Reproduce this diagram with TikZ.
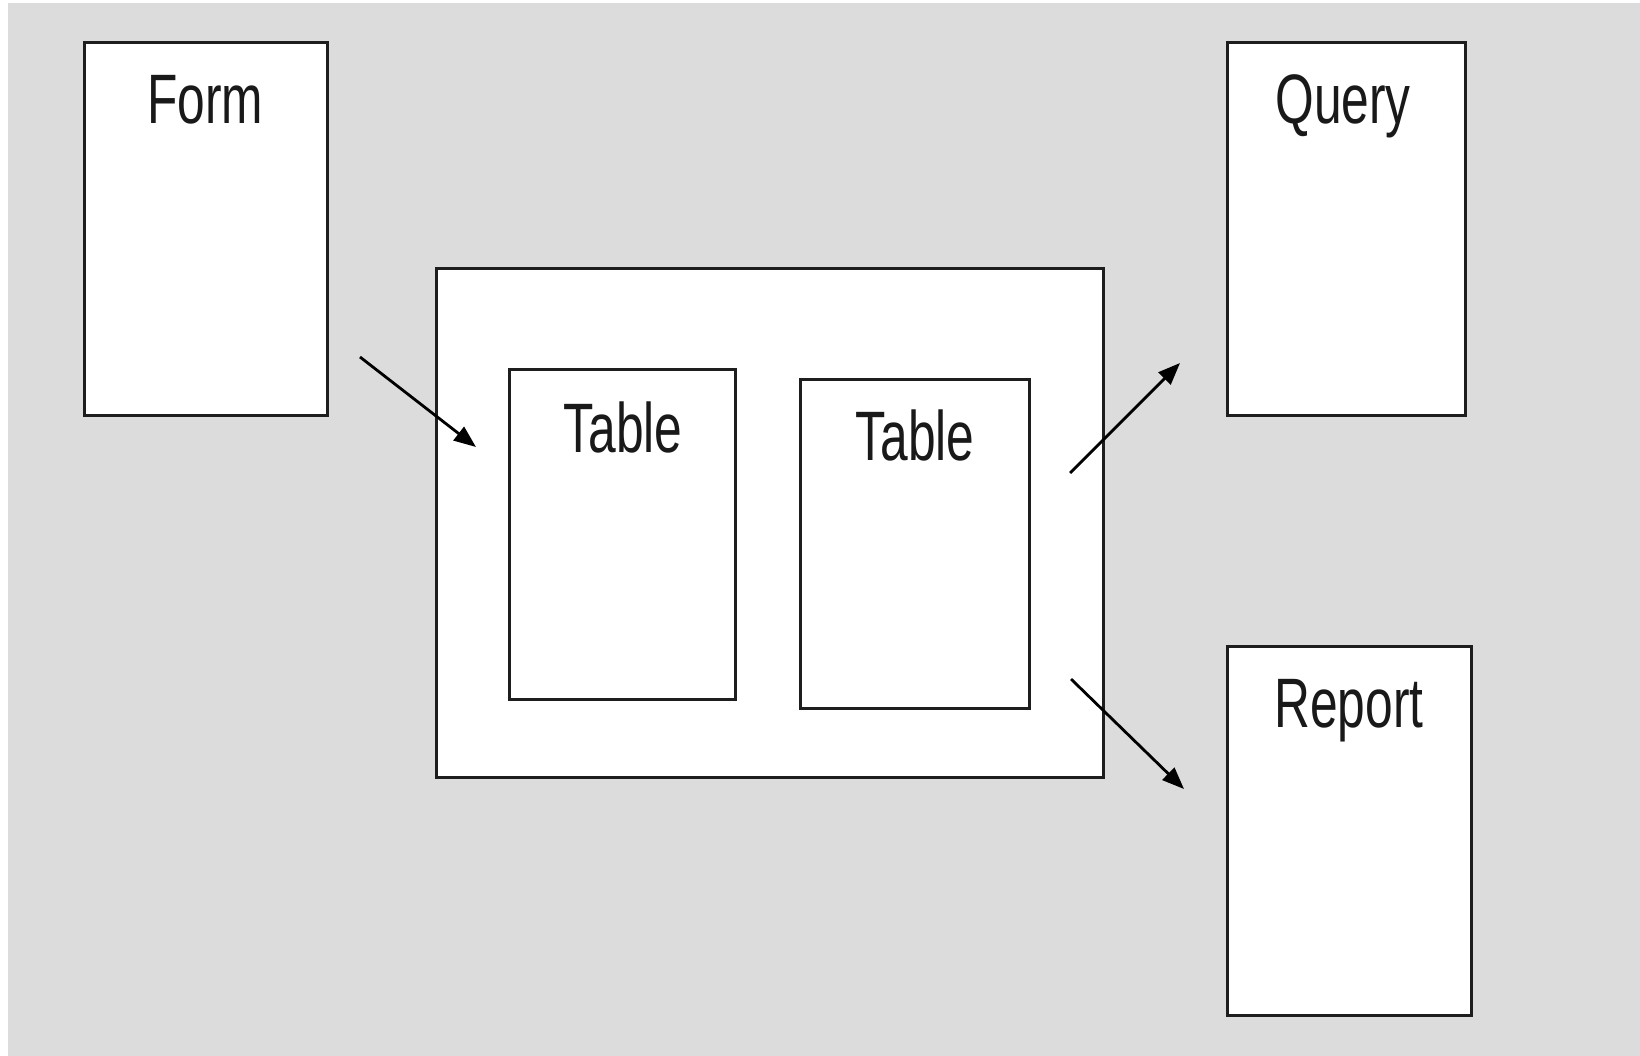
\documentclass[tikz,border=0pt]{standalone}
\usepackage{fontspec}
\newfontfamily\labfont[FakeStretch=0.71]{Liberation Sans}
\usetikzlibrary{arrows.meta}
\definecolor{bggray}{HTML}{DCDCDC}
\definecolor{edge}{HTML}{1E1E1E}
\tikzset{
  box/.style={draw=edge, line width=3pt, fill=white, inner sep=0pt},
  lbl/.style={anchor=base, inner sep=0pt, font=\labfont\fontsize{70}{84}\selectfont, text=black!90},
  arr/.style={draw=black, line width=2.8pt, -{Triangle[length=22pt,width=17pt]}}
}
\begin{document}
\begin{tikzpicture}[x=1pt,y=-1pt]
\useasboundingbox (0,0) rectangle (1640,1055);
\fill[white] (-10,-10) rectangle (1660,1070);
\fill[bggray] (8,3) rectangle (1660,1070);
% boxes
\node[box, minimum width=243pt, minimum height=373pt] (form) at (205.5,228.5) {};
\node[box, minimum width=238pt, minimum height=373pt] (query) at (1346,228.5) {};
\node[box, minimum width=244pt, minimum height=369pt] (report) at (1349,830.5) {};
\node[box, minimum width=667pt, minimum height=509pt] (db) at (769.5,522.5) {};
\node[box, minimum width=226pt, minimum height=330pt] (tab1) at (622,534) {};
\node[box, minimum width=229pt, minimum height=329pt] (tab2) at (914.5,543.5) {};
% labels
\node[lbl] (formlbl) at (205,123) {Form};
\node[lbl] (querylbl) at (1343,123) {Query};
\node[lbl] (reportlbl) at (1349,727) {Report};
\node[lbl] (tab1lbl) at (623,452) {Table};
\node[lbl] (tab2lbl) at (915,460) {Table};
% arrow ends
\coordinate (a1s) at (360,357);
\coordinate (a1e) at (476,447);
\coordinate (a2s) at (1070,473);
\coordinate (a2e) at (1180,363);
\coordinate (a3s) at (1071,679);
\coordinate (a3e) at (1184,789);
\draw[arr] (a1s) -- (a1e);
\draw[arr] (a2s) -- (a2e);
\draw[arr] (a3s) -- (a3e);
\end{tikzpicture}
\end{document}
